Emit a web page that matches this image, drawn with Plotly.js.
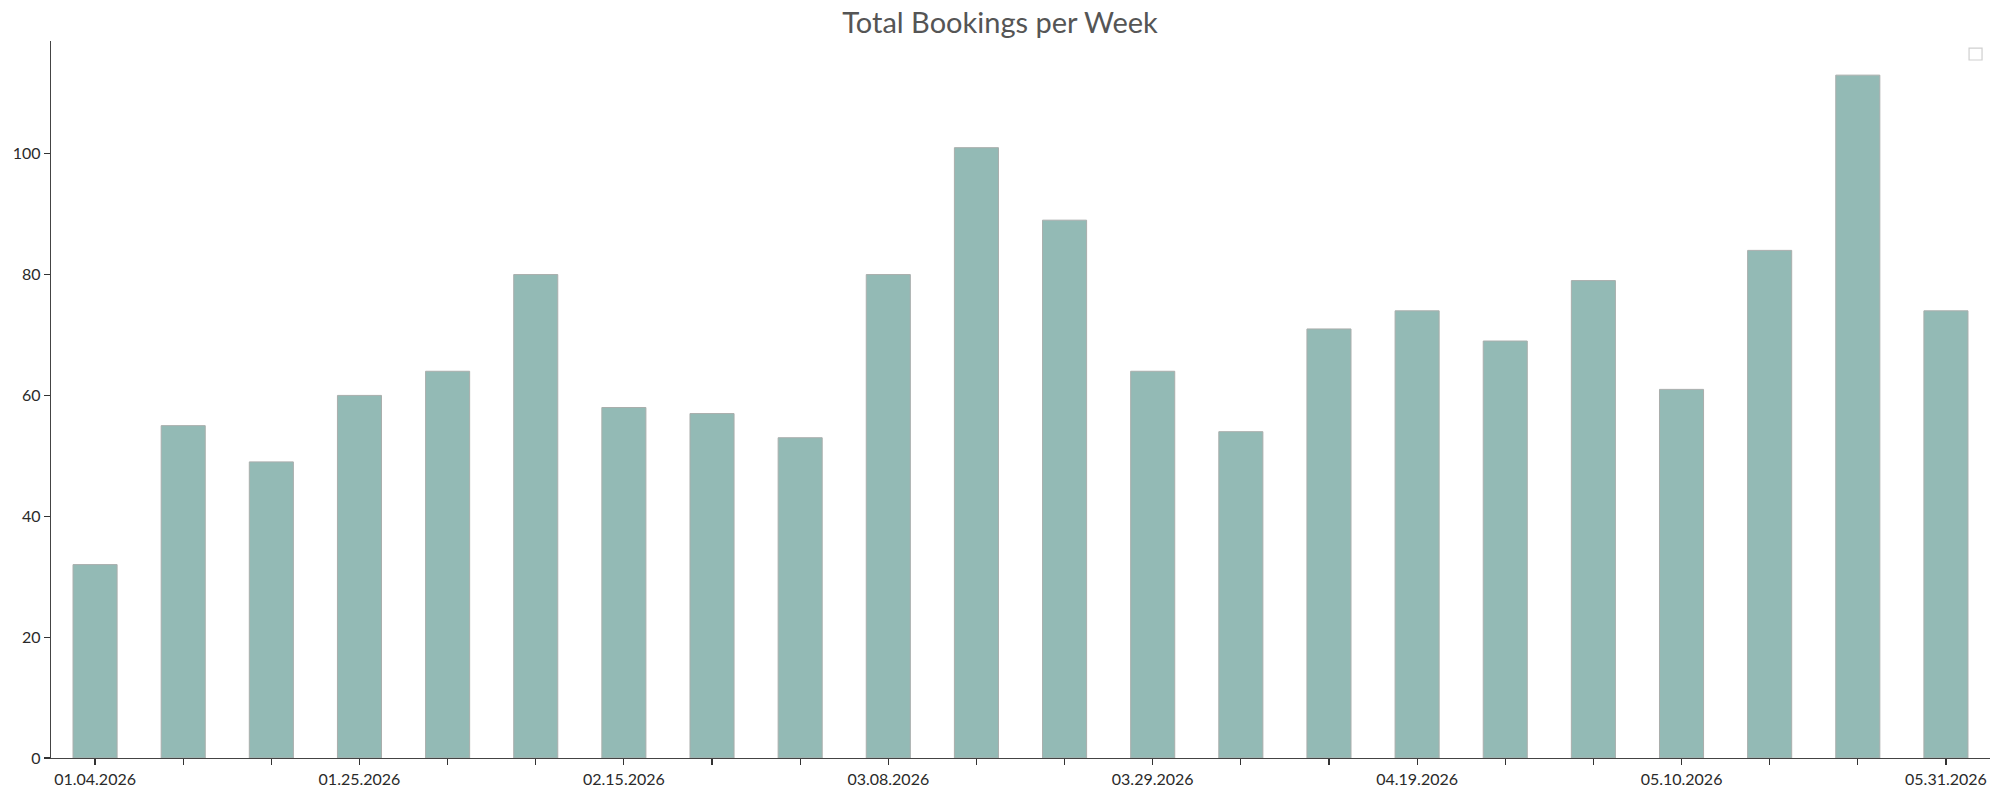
<!DOCTYPE html>
<html>
<head>
<meta charset="utf-8">
<script src="https://cdn.plot.ly/plotly-3.0.1.min.js"></script>
<style>
  body { margin: 0; background: #fff; }
  #myDiv { width: 2000px; height: 796px; }
</style>
</head>
<body>
<div id="myDiv"></div>
<script>
// weekly booking totals
var weeks = ['01.04.2026', '01.11.2026', '01.18.2026', '01.25.2026', '02.01.2026', '02.08.2026',
  '02.15.2026', '02.22.2026', '03.01.2026', '03.08.2026', '03.15.2026', '03.22.2026',
  '03.29.2026', '04.05.2026', '04.12.2026', '04.19.2026', '04.26.2026', '05.03.2026',
  '05.10.2026', '05.17.2026', '05.24.2026', '05.31.2026'];
var bookings = [32, 55, 49, 60, 64, 80, 58, 57, 53, 80, 101, 89, 64, 54, 71, 74, 69, 79, 61, 84, 113, 74];
var shownLabels = ['01.04.2026', '01.25.2026', '02.15.2026', '03.08.2026', '03.29.2026',
  '04.19.2026', '05.10.2026', '05.31.2026'];

var tickText = weeks.map(function (w) {
  return shownLabels.indexOf(w) >= 0 ? w : '';
});

var trace = {
  x: weeks,
  y: bookings,
  type: 'bar',
  width: 0.5,
  marker: {
    color: '#93bab5',
    line: { color: '#a9aeac', width: 1 }
  },
  hoverinfo: 'x+y'
};

var axisFont = { family: 'Lato, "Noto Sans", sans-serif', size: 16, color: '#2a2a2a' };

var layout = {
  width: 2000,
  height: 796,
  margin: { l: 51, r: 10, t: 41, b: 38 },
  paper_bgcolor: '#fff',
  plot_bgcolor: '#fff',
  showlegend: false,
  bargap: 0,
  title: {
    text: 'Total Bookings per Week',
    font: { family: 'Lato, "Noto Sans", sans-serif', size: 29, color: '#555' },
    x: 0.5,
    xanchor: 'center',
    y: 0.971,
    yanchor: 'middle'
  },
  xaxis: {
    type: 'category',
    range: [-0.5, 21.5],
    tickmode: 'array',
    tickvals: weeks,
    ticktext: tickText,
    ticks: 'outside',
    ticklen: 6,
    tickwidth: 1.2,
    tickcolor: '#333',
    tickangle: 0,
    showline: true,
    linecolor: '#444',
    linewidth: 1.3,
    showgrid: false,
    zeroline: false,
    tickfont: axisFont
  },
  yaxis: {
    range: [0, 118.65],
    tickvals: [0, 20, 40, 60, 80, 100],
    ticks: 'outside',
    ticklen: 6,
    tickwidth: 1.2,
    tickcolor: '#333',
    showline: true,
    linecolor: '#444',
    linewidth: 1.3,
    showgrid: false,
    zeroline: false,
    tickfont: axisFont
  },
  shapes: [{
    // empty legend box, top right
    type: 'rect',
    xref: 'paper', yref: 'paper',
    x0: 0.9892, x1: 0.9959,
    y0: 0.9735, y1: 0.9902,
    line: { color: '#cfcfcf', width: 1.2 },
    fillcolor: '#fff'
  }]
};

Plotly.newPlot('myDiv', [trace], layout, { displayModeBar: false, staticPlot: true });
</script>
</body>
</html>
